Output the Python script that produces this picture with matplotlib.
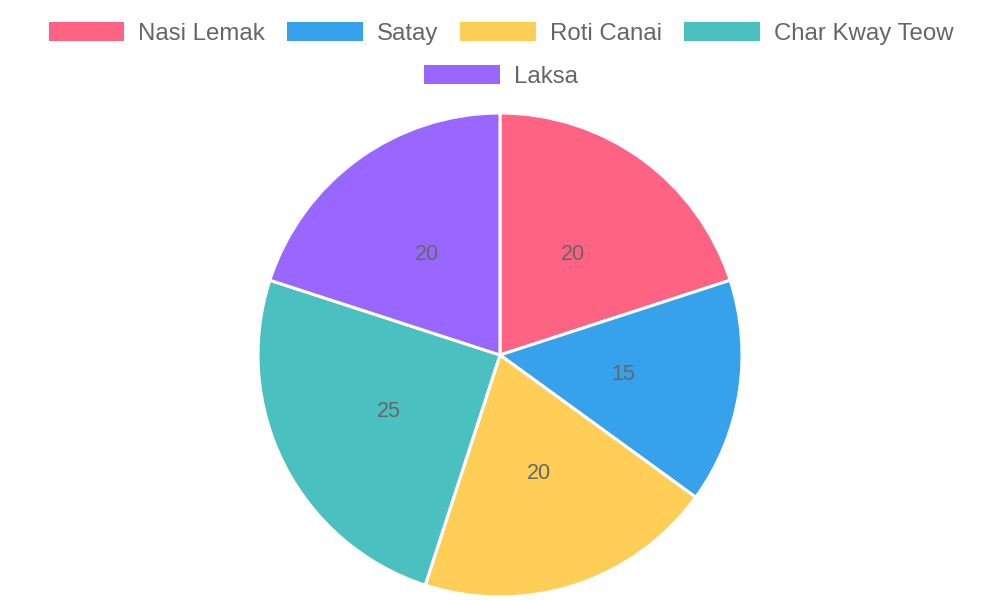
import matplotlib
matplotlib.use('Agg')
import matplotlib.pyplot as plt
from matplotlib.patches import Rectangle

plt.rcParams['font.family'] = ['Liberation Sans', 'DejaVu Sans']

dishes = ['Nasi Lemak', 'Satay', 'Roti Canai', 'Char Kway Teow', 'Laksa']
shares = [20, 15, 20, 25, 20]
colours = ['#FF6384', '#36A2EB', '#FFCE56', '#4BC0C0', '#9966FF']
txt = '#666666'

fig = plt.figure(figsize=(10, 6), dpi=100)
ax = fig.add_axes([258 / 1000, 3 / 600, 484 / 1000, 484 / 600])

wedges, texts = ax.pie(
    shares, colors=colours, startangle=90, counterclock=False,
    labels=[str(v) for v in shares], labeldistance=0.515,
    wedgeprops=dict(edgecolor='white', linewidth=2.2),
    textprops=dict(color=txt, fontsize=15.5, ha='center', va='center'),
)
ax.set_xlim(-1, 1)
ax.set_ylim(-1, 1)
ax.set_aspect('equal')
ax.axis('off')

handles = [Rectangle((0, 0), 1, 1, facecolor=c, edgecolor='none') for c in colours]
common = dict(frameon=False, fontsize=17.3, labelcolor=txt, handlelength=3.15,
              handleheight=0.85, handletextpad=0.58, columnspacing=0.92,
              borderpad=0, borderaxespad=0)
leg1 = fig.legend(handles[:4], dishes[:4], ncol=4, loc='center',
                  bbox_to_anchor=(0.501, 1 - 33.5 / 600), **common)
leg2 = fig.legend(handles[4:], dishes[4:], ncol=1, loc='center',
                  bbox_to_anchor=(0.501, 1 - 76.5 / 600), **common)

fig.savefig('out.png', dpi=100)
